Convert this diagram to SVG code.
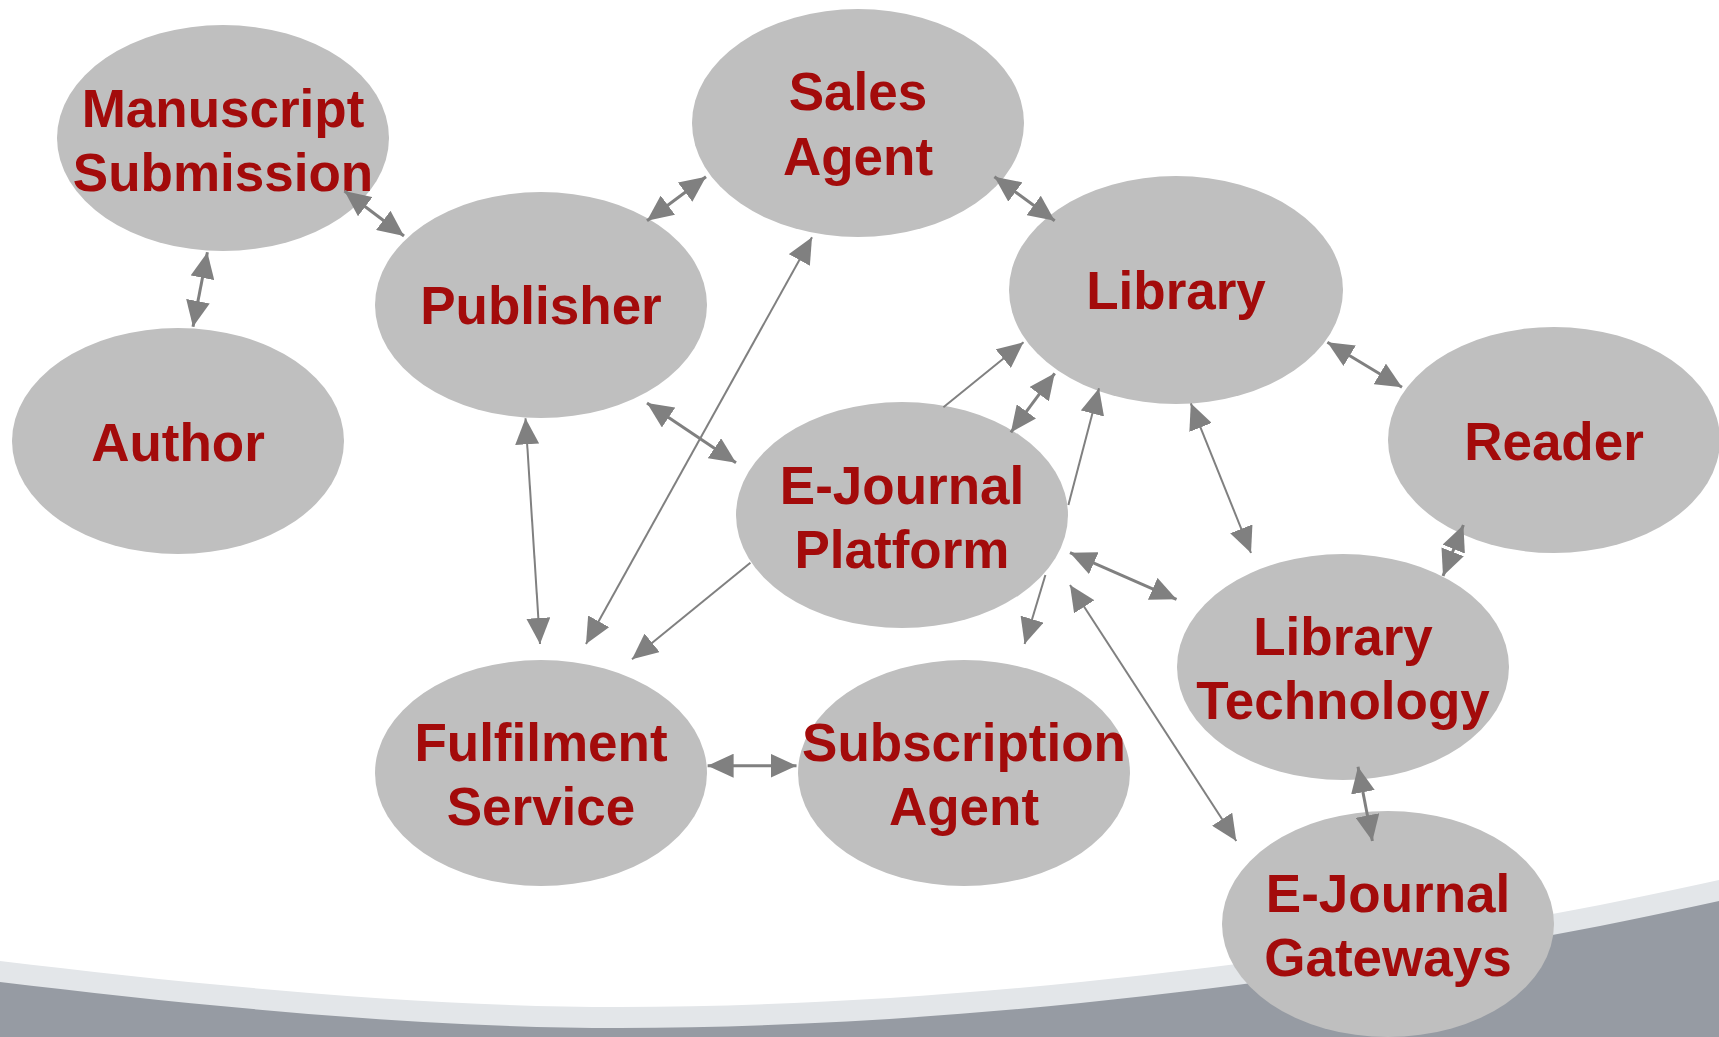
<svg xmlns="http://www.w3.org/2000/svg" width="1719" height="1037" viewBox="0 0 1719 1037">
<style>
.node ellipse{fill:#BFBFBF}
.node text{font-family:"Liberation Sans",Arial,sans-serif;font-weight:bold;font-size:53px;fill:#A30B0B;text-anchor:middle}
.c{stroke:#808080;fill:none}
.s{stroke-width:3}
.l{stroke-width:2}
</style>
<defs>
<marker id="ah" markerUnits="userSpaceOnUse" markerWidth="26" markerHeight="24" refX="26" refY="12" orient="auto-start-reverse" viewBox="0 0 26 24">
<path d="M0,0 L26,12 L0,24 Z" fill="#808080"/>
</marker>
</defs>
<rect width="1719" height="1037" fill="#FFFFFF"/>
<g id="background">
<path d="M0,961 C200,985 420,1007 620,1007 C1000,1007 1419,947 1719,880 L1719,1037 L0,1037 Z" fill="#E3E6E9"/>
<path d="M0,982 C200,1006 420,1028 620,1028 C1000,1028 1419,968 1719,901 L1719,1037 L0,1037 Z" fill="#969BA3"/>
</g>
<g id="manuscript-submission" class="node"><ellipse cx="223" cy="138" rx="166" ry="113"/><text x="223" y="127">Manuscript</text><text x="223" y="191">Submission</text></g>
<g id="author" class="node"><ellipse cx="178" cy="441" rx="166" ry="113"/><text x="178" y="461">Author</text></g>
<g id="publisher" class="node"><ellipse cx="541" cy="305" rx="166" ry="113"/><text x="541" y="324">Publisher</text></g>
<g id="sales-agent" class="node"><ellipse cx="858" cy="123" rx="166" ry="114"/><text x="858" y="110">Sales</text><text x="858" y="175">Agent</text></g>
<g id="library" class="node"><ellipse cx="1176" cy="290" rx="167" ry="114"/><text x="1176" y="309">Library</text></g>
<g id="reader" class="node"><ellipse cx="1554" cy="440" rx="166" ry="113"/><text x="1554" y="460">Reader</text></g>
<g id="e-journal-platform" class="node"><ellipse cx="902" cy="515" rx="166" ry="113"/><text x="902" y="504">E-Journal</text><text x="902" y="568">Platform</text></g>
<g id="fulfilment-service" class="node"><ellipse cx="541" cy="773" rx="166" ry="113"/><text x="541" y="761">Fulfilment</text><text x="541" y="825">Service</text></g>
<g id="subscription-agent" class="node"><ellipse cx="964" cy="773" rx="166" ry="113"/><text x="964" y="761">Subscription</text><text x="964" y="825">Agent</text></g>
<g id="library-technology" class="node"><ellipse cx="1343" cy="667" rx="166" ry="113"/><text x="1343" y="655">Library</text><text x="1343" y="719">Technology</text></g>
<g id="e-journal-gateways" class="node"><ellipse cx="1388" cy="924" rx="166" ry="113"/><text x="1388" y="912">E-Journal</text><text x="1388" y="976">Gateways</text></g>
<g id="connectors">
<line class="c s" x1="344.5" y1="191" x2="404" y2="236" marker-start="url(#ah)" marker-end="url(#ah)"/>
<line class="c s" x1="207.4" y1="252.3" x2="193" y2="326.7" marker-start="url(#ah)" marker-end="url(#ah)"/>
<line class="c s" x1="647" y1="220.7" x2="706" y2="176.7" marker-start="url(#ah)" marker-end="url(#ah)"/>
<line class="c s" x1="647" y1="403" x2="736" y2="462.7" marker-start="url(#ah)" marker-end="url(#ah)"/>
<line class="c l" x1="525.5" y1="418.3" x2="540" y2="644" marker-start="url(#ah)" marker-end="url(#ah)"/>
<line class="c l" x1="812" y1="237.3" x2="586" y2="644" marker-start="url(#ah)" marker-end="url(#ah)"/>
<line class="c l" x1="750.4" y1="562.7" x2="632" y2="659.3" marker-end="url(#ah)"/>
<line class="c s" x1="707.6" y1="765.7" x2="796.5" y2="765.7" marker-start="url(#ah)" marker-end="url(#ah)"/>
<line class="c s" x1="994.4" y1="176.7" x2="1054.7" y2="220.7" marker-start="url(#ah)" marker-end="url(#ah)"/>
<line class="c l" x1="943.4" y1="407.3" x2="1023.5" y2="342.3" marker-end="url(#ah)"/>
<line class="c s" x1="1054.7" y1="373.3" x2="1010.9" y2="432.3" marker-start="url(#ah)" marker-end="url(#ah)"/>
<line class="c l" x1="1068.4" y1="505" x2="1099" y2="388.3" marker-end="url(#ah)"/>
<line class="c l" x1="1190.8" y1="403.3" x2="1251" y2="553" marker-start="url(#ah)" marker-end="url(#ah)"/>
<line class="c s" x1="1327.4" y1="342.3" x2="1402" y2="387.3" marker-start="url(#ah)" marker-end="url(#ah)"/>
<line class="c s" x1="1463.4" y1="525" x2="1443" y2="576" marker-start="url(#ah)" marker-end="url(#ah)"/>
<line class="c l" x1="1045.4" y1="575" x2="1024.6" y2="644" marker-end="url(#ah)"/>
<line class="c s" x1="1070" y1="552.7" x2="1176.5" y2="599.3" marker-start="url(#ah)" marker-end="url(#ah)"/>
<line class="c l" x1="1070" y1="585" x2="1236.3" y2="841" marker-start="url(#ah)" marker-end="url(#ah)"/>
<line class="c s" x1="1358" y1="766.7" x2="1372.4" y2="841" marker-start="url(#ah)" marker-end="url(#ah)"/>
</g>
</svg>
